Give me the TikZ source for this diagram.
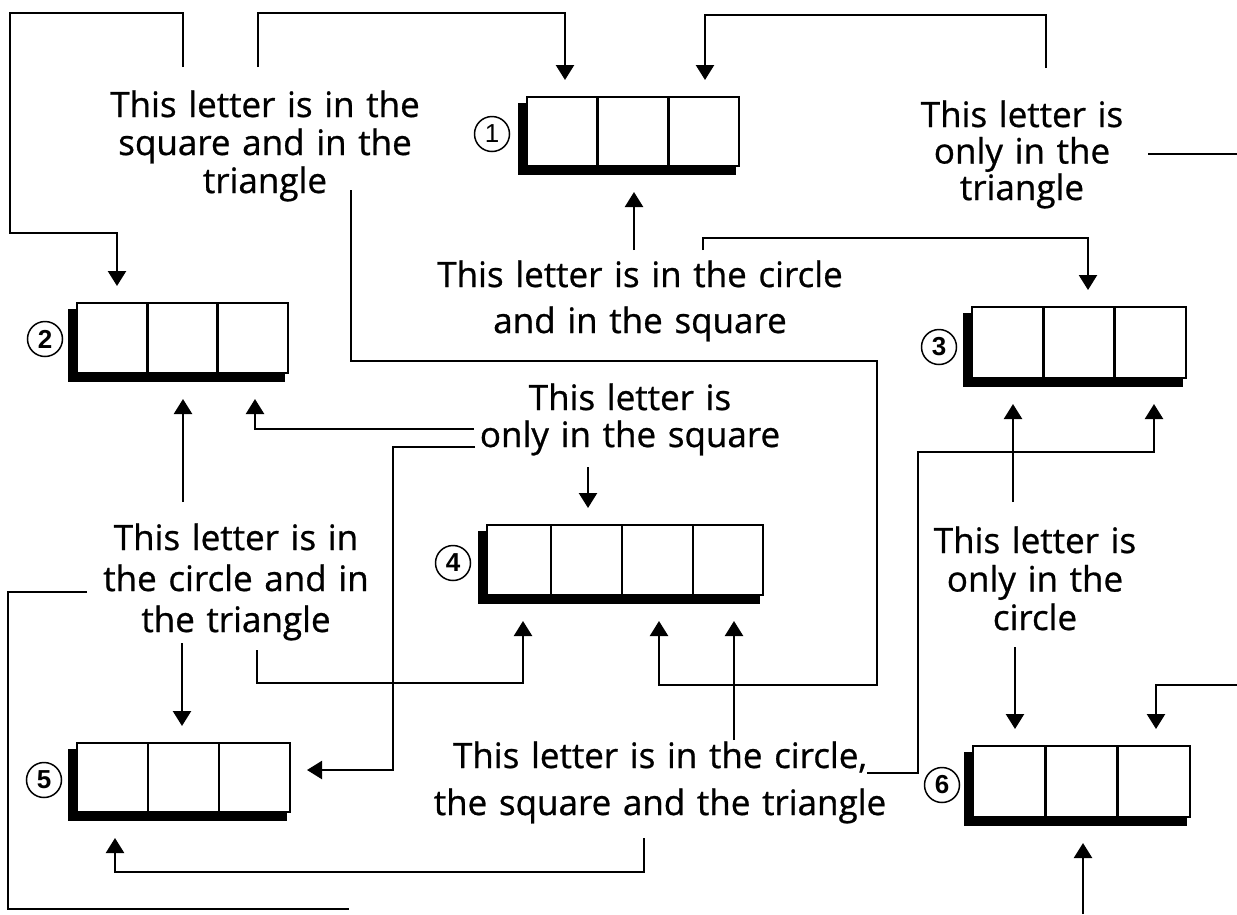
\documentclass[tikz,border=0pt]{standalone}
\usepackage{fontspec}
\setmainfont{Open Sans}[FakeBold=0.8]
\newfontfamily\numfont{Liberation Sans}
\usetikzlibrary{arrows.meta,calc}
\pgfdeclarelayer{bg}
\pgfsetlayers{bg,main}
\begin{document}
\begin{tikzpicture}[x=1pt,y=-1pt,
  conn/.style={line width=2.4pt},
  arr/.style={conn,-{Triangle[length=15pt,width=18pt]},shorten >=17pt},
  arrB/.style={arr,shorten >=26pt},
  cell/.style={draw,line width=2.8pt,fill=white,inner sep=0pt,outer sep=0pt,anchor=north west},
  divider/.style={line width=2.8pt},
  num/.style={circle,draw,line width=1.5pt,minimum size=35pt,inner sep=0pt,outer sep=0pt,font=\numfont\bfseries\fontsize{26}{26}\selectfont},
  lbl/.style={inner sep=0pt,anchor=base,align=center,text width=480pt,font=\fontsize{35}{38}\selectfont}]
\useasboundingbox (0,0) rectangle (1237,914);

% boxes
\node[cell,minimum width=212pt,minimum height=69pt] (b1) at (527,97) {};
\node[cell,minimum width=211pt,minimum height=70pt] (b2) at (77,303) {};
\node[cell,minimum width=214pt,minimum height=71pt] (b3) at (972,307) {};
\node[cell,minimum width=276pt,minimum height=70pt] (b4) at (487,525) {};
\node[cell,minimum width=213pt,minimum height=69pt] (b5) at (77,743) {};
\node[cell,minimum width=217pt,minimum height=71pt] (b6) at (973,746) {};
\begin{pgfonlayer}{bg}
\fill[white] (0,0) rectangle (1237,914);
\foreach \b in {b1,b2,b3,b4,b5,b6}
  \fill[black] ($(\b.south west)+(-9,9)$) rectangle ($(\b.north east)+(-3,6)$);
\end{pgfonlayer}
\foreach \b in {b1,b2,b3,b5,b6}
  \foreach \f in {0.3333,0.6667}
    \draw[divider] ($(\b.north west)!\f!(\b.north east)$) -- ($(\b.south west)!\f!(\b.south east)$);
\foreach \f in {0.232,0.489,0.746}
  \draw[divider] ($(b4.north west)!\f!(b4.north east)$) -- ($(b4.south west)!\f!(b4.south east)$);

% numbers
\node[num,font=\numfont\fontsize{26}{26}\selectfont] (n1) at (492,134) {1};
\node[num] (n2) at (45,339) {2};
\node[num] (n3) at (939,347) {3};
\node[num] (n4) at (453,563) {4};
\node[num] (n5) at (44,780) {5};
\node[num] (n6) at (942,785) {6};

% texts
\node[lbl] (t1) at (265,117) {This letter is in the\\square and in the\\triangle};
\node[lbl,font=\fontsize{35}{36.5}\selectfont] (t2) at (1022,127) {This letter is\\only in the\\triangle};
\node[lbl,font=\fontsize{35}{46}\selectfont] (t3) at (640,287) {This letter is in the circle\\and in the square};
\node[lbl,font=\fontsize{35}{37}\selectfont] (t4) at (630,410) {This letter is\\only in the square};
\node[lbl,font=\fontsize{35}{41}\selectfont] (t5) at (236,550) {This letter is in\\the circle and in\\the triangle};
\node[lbl,font=\fontsize{35}{38.5}\selectfont] (t6) at (1035,553) {This letter is\\only in the\\circle};
\node[lbl,font=\fontsize{35}{47}\selectfont] (t7) at (660,768) {This letter is in the circle,\\the square and the triangle};

% free ends
\coordinate (e4) at (1237,154);
\coordinate (e5) at (1237,685);
\coordinate (e13) at (349,909);
\coordinate (e21) at (1083,914);

% connectors
\draw[arr] (t1.base -| 183,0) ++(0,-50) -- (183,13) -- (10,13) -- (10,233) -- (117,233) -- (b2.north -| 117,0);
\draw[arr] (t1.base -| 258,0) ++(0,-50) -- (258,13) -- (565,13) -- (b1.north -| 565,0);
\draw[arr] (t2.base -| 1046,0) ++(0,-59) -- (1046,15) -- (705,15) -- (b1.north -| 705,0);
\draw[conn] (t2.base -| 1148,0) ++(0,27) -- (e4);
\draw[arr] (e5) -- (1156,685) -- (b6.north -| 1156,0);
\draw[arrB] (t3.base -| 634,0) ++(0,-37) -- (b1.south -| 634,0);
\draw[arr] (t3.base -| 703,0) ++(0,-37) -- (703,238) -- (1088,238) -- (b3.north -| 1088,0);
\draw[arrB] (t1.base -| 351,0) ++(0,73) -- (351,361) -- (877,361) -- (877,685) -- (659,685) -- (b4.south -| 659,0);
\draw[arrB] (t4.base -| 474,0) ++(0,19) -- (255,429) -- (b2.south -| 255,0);
\draw[arr] (t4.base -| 475,0) ++(0,37) -- (393,447) -- (393,770) -- (b5.east |- 0,770);
\draw[arr] (t4.base -| 588,0) ++(0,57) -- (b4.north -| 588,0);
\draw[arrB] (t5.base -| 183,0) ++(0,-48) -- (b2.south -| 183,0);
\draw[conn] (t5.base -| 87,0) ++(0,42) -- (8,592) -- (8,909) -- (e13);
\draw[arr] (t5.base -| 182,0) ++(0,93) -- (b5.north -| 182,0);
\draw[arrB] (t5.base -| 257,0) ++(0,100) -- (257,683) -- (523,683) -- (b4.south -| 523,0);
\draw[arrB] (t7.base -| 734,0) ++(0,-28) -- (b4.south -| 734,0);
\draw[arrB] (t7.base -| 867,0) ++(0,5) -- (918,773) -- (918,452) -- (1154,452) -- (b3.south -| 1154,0);
\draw[arrB] (t6.base -| 1013,0) ++(0,-51) -- (b3.south -| 1013,0);
\draw[arr] (t6.base -| 1015,0) ++(0,94) -- (b6.north -| 1015,0);
\draw[arrB] (t7.base -| 644,0) ++(0,70) -- (644,872) -- (115,872) -- (b5.south -| 115,0);
\draw[arrB] (e21) -- (b6.south -| 1083,0);
\end{tikzpicture}
\end{document}
